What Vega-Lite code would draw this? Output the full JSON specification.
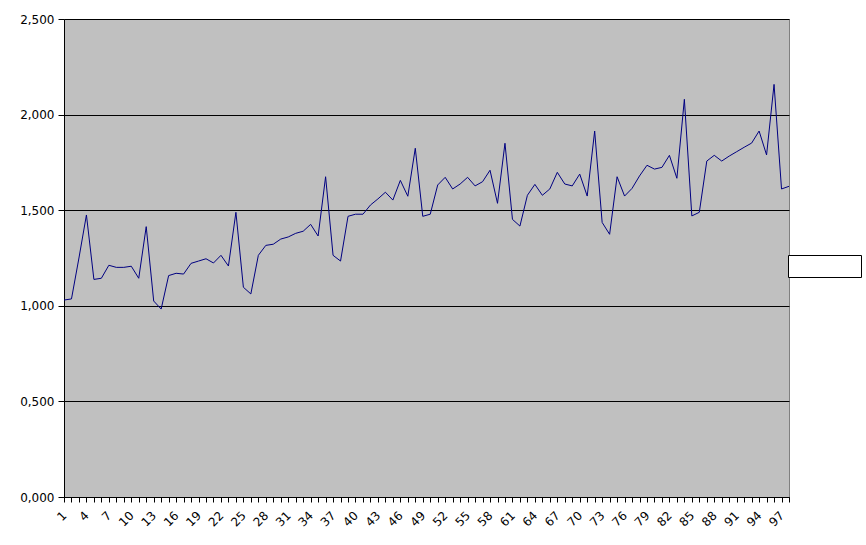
{
  "$schema": "https://vega.github.io/schema/vega-lite/v6.json",
  "autosize": "none",
  "width": 725,
  "height": 478,
  "padding": {"left": 64, "top": 19, "right": 77, "bottom": 48},
  "background": "white",
  "config": {
    "view": {"fill": "#C0C0C0", "stroke": "#808080", "strokeWidth": 1},
    "font": "DejaVu Sans"
  },
  "data": {
    "values": [
      {"x": 1, "v": 1.030}, {"x": 2, "v": 1.036}, {"x": 3, "v": 1.25}, {"x": 4, "v": 1.475},
      {"x": 5, "v": 1.138}, {"x": 6, "v": 1.144}, {"x": 7, "v": 1.212}, {"x": 8, "v": 1.201},
      {"x": 9, "v": 1.201}, {"x": 10, "v": 1.207}, {"x": 11, "v": 1.144}, {"x": 12, "v": 1.414},
      {"x": 13, "v": 1.025}, {"x": 14, "v": 0.983}, {"x": 15, "v": 1.158}, {"x": 16, "v": 1.170},
      {"x": 17, "v": 1.166}, {"x": 18, "v": 1.222}, {"x": 19, "v": 1.234}, {"x": 20, "v": 1.246},
      {"x": 21, "v": 1.224}, {"x": 22, "v": 1.264}, {"x": 23, "v": 1.208}, {"x": 24, "v": 1.489},
      {"x": 25, "v": 1.097}, {"x": 26, "v": 1.062}, {"x": 27, "v": 1.264}, {"x": 28, "v": 1.316},
      {"x": 29, "v": 1.322}, {"x": 30, "v": 1.349}, {"x": 31, "v": 1.360}, {"x": 32, "v": 1.379},
      {"x": 33, "v": 1.390}, {"x": 34, "v": 1.426}, {"x": 35, "v": 1.365}, {"x": 36, "v": 1.675},
      {"x": 37, "v": 1.264}, {"x": 38, "v": 1.234}, {"x": 39, "v": 1.468}, {"x": 40, "v": 1.479},
      {"x": 41, "v": 1.479}, {"x": 42, "v": 1.527}, {"x": 43, "v": 1.559}, {"x": 44, "v": 1.594},
      {"x": 45, "v": 1.553}, {"x": 46, "v": 1.656}, {"x": 47, "v": 1.573}, {"x": 48, "v": 1.824},
      {"x": 49, "v": 1.468}, {"x": 50, "v": 1.479}, {"x": 51, "v": 1.632}, {"x": 52, "v": 1.672},
      {"x": 53, "v": 1.611}, {"x": 54, "v": 1.637}, {"x": 55, "v": 1.672}, {"x": 56, "v": 1.627},
      {"x": 57, "v": 1.649}, {"x": 58, "v": 1.709}, {"x": 59, "v": 1.536}, {"x": 60, "v": 1.850},
      {"x": 61, "v": 1.452}, {"x": 62, "v": 1.417}, {"x": 63, "v": 1.578}, {"x": 64, "v": 1.635},
      {"x": 65, "v": 1.578}, {"x": 66, "v": 1.611}, {"x": 67, "v": 1.698}, {"x": 68, "v": 1.637},
      {"x": 69, "v": 1.627}, {"x": 70, "v": 1.689}, {"x": 71, "v": 1.574}, {"x": 72, "v": 1.914},
      {"x": 73, "v": 1.436}, {"x": 74, "v": 1.374}, {"x": 75, "v": 1.675}, {"x": 76, "v": 1.574},
      {"x": 77, "v": 1.614}, {"x": 78, "v": 1.679}, {"x": 79, "v": 1.735}, {"x": 80, "v": 1.715},
      {"x": 81, "v": 1.724}, {"x": 82, "v": 1.787}, {"x": 83, "v": 1.667}, {"x": 84, "v": 2.080},
      {"x": 85, "v": 1.470}, {"x": 86, "v": 1.489}, {"x": 87, "v": 1.757}, {"x": 88, "v": 1.787},
      {"x": 89, "v": 1.757}, {"x": 90, "v": 1.783}, {"x": 91, "v": 1.806}, {"x": 92, "v": 1.829},
      {"x": 93, "v": 1.851}, {"x": 94, "v": 1.914}, {"x": 95, "v": 1.789}, {"x": 96, "v": 2.158},
      {"x": 97, "v": 1.611}, {"x": 98, "v": 1.625}
    ]
  },
  "mark": {"type": "line", "strokeWidth": 1, "clip": false},
  "encoding": {
    "x": {
      "field": "x",
      "type": "quantitative",
      "scale": {"domain": [1, 98], "nice": false, "zero": false},
      "axis": {
        "title": null,
        "grid": false,
        "values": [1,2,3,4,5,6,7,8,9,10,11,12,13,14,15,16,17,18,19,20,21,22,23,24,25,26,27,28,29,30,31,32,33,34,35,36,37,38,39,40,41,42,43,44,45,46,47,48,49,50,51,52,53,54,55,56,57,58,59,60,61,62,63,64,65,66,67,68,69,70,71,72,73,74,75,76,77,78,79,80,81,82,83,84,85,86,87,88,89,90,91,92,93,94,95,96,97,98],
        "labelExpr": "(datum.value - 1) % 3 == 0 ? datum.value + '' : ''",
        "labelOverlap": false,
        "labelAngle": -45,
        "labelAlign": "right",
        "labelBaseline": "middle",
        "labelFontSize": 12,
        "labelColor": "black",
        "labelPadding": 11,
        "tickColor": "black",
        "tickSize": 5,
        "domainColor": "black",
        "labelFlush": false
      }
    },
    "y": {
      "field": "v",
      "type": "quantitative",
      "scale": {"domain": [0, 2.5], "nice": false},
      "axis": {
        "title": null,
        "values": [0, 0.5, 1, 1.5, 2, 2.5],
        "labelExpr": "replace(format(datum.value, '.3f'), '.', ',')",
        "gridColor": "black",
        "gridOpacity": 1,
        "tickColor": "black",
        "tickSize": 6,
        "domainColor": "black",
        "labelFontSize": 12,
        "labelColor": "black",
        "labelPadding": 4,
        "labelFlush": false
      }
    },
    "color": {
      "datum": 1,
      "type": "quantitative",
      "scale": {"domain": [0, 2], "range": ["#000080", "#000080"]},
      "legend": {
        "title": null,
        "orient": "none",
        "direction": "horizontal",
        "legendX": 724,
        "legendY": 236,
        "fillColor": "white",
        "strokeColor": "black",
        "padding": 5,
        "gradientLength": 63,
        "gradientThickness": 11,
        "gradientOpacity": 0,
        "gradientStrokeWidth": 0,
        "labelExpr": "''",
        "labelFontSize": 1,
        "labelOffset": 0,
        "labelOpacity": 0
      }
    }
  }
}
